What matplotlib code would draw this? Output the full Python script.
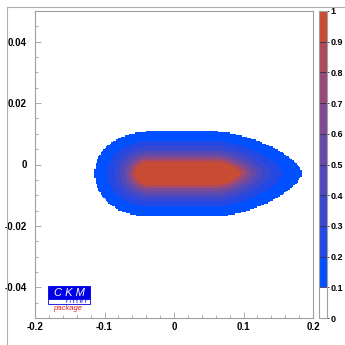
import numpy as np
import matplotlib
matplotlib.use("Agg")
import matplotlib.pyplot as plt
from matplotlib.colors import ListedColormap, BoundaryNorm
from matplotlib.patches import Rectangle
from matplotlib.lines import Line2D
from matplotlib.ticker import MultipleLocator

plt.rcParams['font.family'] = ['Liberation Sans', 'DejaVu Sans']

# p-value bands (1 - CL) and their fill colours
levels = [0.0, 0.1, 0.2, 0.3, 0.4, 0.5, 0.6, 0.7, 0.8, 0.9, 1.0]
band_colors = ['#ffffff', '#0050ff', '#2448e4', '#3a48d0', '#5049bc', '#664aa8',
               '#7e4a92', '#984a78', '#b04a5a', '#c84b34']
level_labels = ['0', '0.1', '0.2', '0.3', '0.4', '0.5', '0.6', '0.7', '0.8', '0.9', '1']

# likelihood shape: best-fit ridge and widths (left/right, down/up)
ridge_x = [-0.034, 0.061]
ridge_y = -0.0028
width_x = [0.0263, 0.0405]
width_y = [0.00467, 0.00444]
shape_pow = [2.1, 1.55]
plateau = 0.74

xlim = (-0.2, 0.2)
ylim = (-0.05, 0.05)
nbins = 220

xe = np.linspace(*xlim, nbins + 1)
ye = np.linspace(*ylim, nbins + 1)
xc = 0.5 * (xe[:-1] + xe[1:])
yc = 0.5 * (ye[:-1] + ye[1:])
X, Y = np.meshgrid(xc, yc)

dx = np.where(X < ridge_x[0], (X - ridge_x[0]) / width_x[0],
              np.where(X > ridge_x[1], (X - ridge_x[1]) / width_x[1], 0.0))
dy = np.where(Y < ridge_y, (Y - ridge_y) / width_y[0], (Y - ridge_y) / width_y[1])
q = np.where(X > ridge_x[1], shape_pow[1], shape_pow[0])
dist = (np.abs(dx) ** q + np.abs(dy) ** q) ** (1.0 / q)
pval = np.exp(-np.clip(dist - plateau, 0, None))

cmap = ListedColormap(band_colors)
norm = BoundaryNorm(levels, cmap.N)

fig = plt.figure(figsize=(3.45, 3.45), dpi=100)
W = H = 345.0
ax = fig.add_axes([35 / W, 27 / H, 278 / W, 307 / H])
cax = fig.add_axes([319 / W, 27 / H, 8 / W, 307 / H])

ax.pcolormesh(xe, ye, pval, cmap=cmap, norm=norm, shading='flat')
ax.set_xlim(*xlim)
ax.set_ylim(*ylim)

frame_col = '#a0a0a0'
for sp in ax.spines.values():
    sp.set_color(frame_col)
    sp.set_linewidth(0.8)

ax.xaxis.set_major_locator(MultipleLocator(0.1))
ax.xaxis.set_minor_locator(MultipleLocator(0.02))
ax.yaxis.set_major_locator(MultipleLocator(0.02))
ax.yaxis.set_minor_locator(MultipleLocator(0.005))
ax.tick_params(which='both', direction='in', color=frame_col, width=0.6,
               top=False, right=False)
ax.tick_params(which='major', length=4)
ax.tick_params(which='minor', length=2)
ax.tick_params(axis='x', labelsize=7, pad=3)
ax.tick_params(axis='y', labelsize=7, pad=6)
ax.set_xticks([-0.2, -0.1, 0, 0.1, 0.2])
ax.set_xticklabels(['-0.2', '-0.1', '0', '0.1', '0.2'], fontweight='bold')
ax.set_yticks([-0.04, -0.02, 0, 0.02, 0.04])
ax.set_yticklabels(['-0.04', '-0.02', '0', '0.02', '0.04'], fontweight='bold')

# colour scale
sm = plt.cm.ScalarMappable(cmap=cmap, norm=norm)
cb = fig.colorbar(sm, cax=cax, ticks=levels, drawedges=True)
cb.dividers.set_color('#3a2a4a')
cb.dividers.set_linewidth(0.6)
cb.outline.set_edgecolor(frame_col)
cb.outline.set_linewidth(0.8)
cax.set_yticklabels(level_labels, fontweight='bold')
cax.tick_params(labelsize=6.5, length=1.5, width=0.6, color='#3a2a4a', pad=1)

# outer canvas frame
fig.add_artist(Line2D([7 / W, 1.0], [1 - 7 / H, 1 - 7 / H], color='#b0b0b0', lw=0.8))
fig.add_artist(Line2D([7 / W, 7 / W], [0.0, 1 - 7 / H], color='#b0b0b0', lw=0.8))

# CKMfitter logo
fig.add_artist(Rectangle((48 / W, 1 - 299 / H), 42 / W, 13 / H,
                         transform=fig.transFigure, facecolor='#0000e6', edgecolor='#0000e6', lw=0.6))
fig.add_artist(Rectangle((48 / W, 1 - 303.5 / H), 42 / W, 4.5 / H,
                         transform=fig.transFigure, facecolor='white', edgecolor='#0000e6', lw=0.6))
fig.text(69 / W, 1 - 292.5 / H, 'C K M', color='white', fontsize=8, style='italic',
         ha='center', va='center')
fig.text(76 / W, 1 - 301.5 / H, 'f i t t e r', color='#0000e6', fontsize=4.5,
         ha='center', va='center')
fig.text(68 / W, 1 - 308.5 / H, 'package', color='#e02020', fontsize=5.5, style='italic',
         ha='center', va='center')

fig.savefig('out.png', dpi=100, facecolor='white')
